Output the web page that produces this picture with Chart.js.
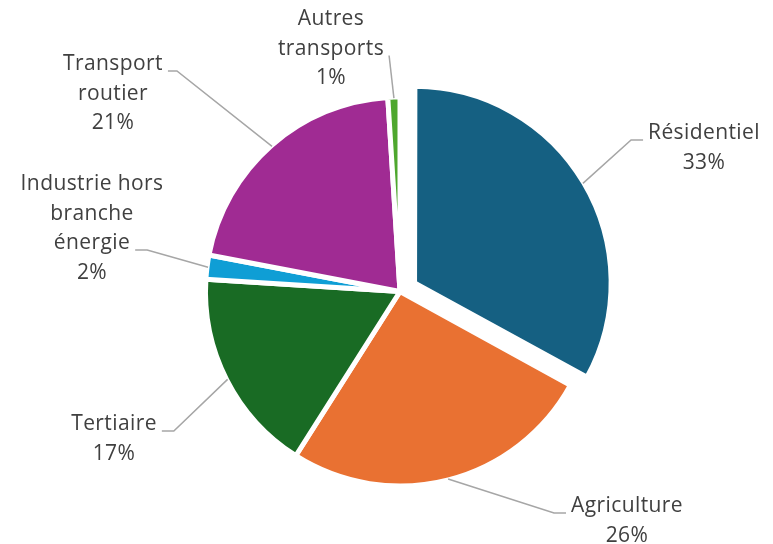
<!DOCTYPE html>
<html lang="fr">
<head>
<meta charset="UTF-8">
<title>Répartition par secteur</title>
<script src="https://cdn.jsdelivr.net/npm/chart.js"></script>
<style>
  html, body { margin: 0; padding: 0; background: #fff; }
  #wrap { width: 773px; height: 544px; }
</style>
</head>
<body>
<div id="wrap"><canvas id="pie"></canvas></div>
<script>
// Secteurs et parts (%), dans l'ordre horaire depuis midi
const sectors = ['Résidentiel', 'Agriculture', 'Tertiaire', 'Industrie hors branche énergie', 'Transport routier', 'Autres transports'];
const shares = [33, 26, 17, 2, 21, 1];
// libellés coupés comme dans les étiquettes
const labelLines = [
  ['Résidentiel'],
  ['Agriculture'],
  ['Tertiaire'],
  ['Industrie hors', 'branche', 'énergie'],
  ['Transport', 'routier'],
  ['Autres', 'transports']
];
const colors = ['#156082', '#E97132', '#196B24', '#0F9ED5', '#A02B93', '#4EA72E'];
// déplacement voulu de chaque part vers l'extérieur, en pixels
const explode = [19, 0, 0, 0, 0, 0];

// placement des étiquettes : décalage du bloc de texte par rapport au centre,
// ligne où s'accroche le trait de rappel, longueur du palier horizontal
const labelPlace = [
  { dx: 304, dy: -158, line: 0, tail: 12 },
  { dx: 227, dy: 215, line: 0, tail: 12 },
  { dx: -286, dy: 133, line: 0, tail: 12 },
  { dx: -308, dy: -107, line: 2, tail: 12 },
  { dx: -287, dy: -227, line: 0, tail: 9 },
  { dx: -69, dy: -272, line: 1, tail: 0 }
];

const FONT = '21px "Open Sans", sans-serif';
const LINE_H = 29.5;

// Chart.js décale un arc de offset/4 * (1 + fix) : on inverse pour obtenir le déplacement voulu
function arcFix(circ) {
  return 1 - Math.sin(Math.min(Math.PI, circ || 0));
}
function offsetFor(i) {
  const total = shares.reduce((a, b) => a + b, 0);
  const circ = shares[i] / total * Math.PI * 2;
  return explode[i] * 4 / (1 + arcFix(circ));
}

const leaderLabels = {
  id: 'leaderLabels',
  afterDatasetsDraw(chart) {
    const ctx = chart.ctx;
    const meta = chart.getDatasetMeta(0);
    const total = shares.reduce((a, b) => a + b, 0);
    ctx.save();
    ctx.font = FONT;
    ctx.letterSpacing = '0.4px';
    ctx.textAlign = 'center';
    ctx.textBaseline = 'middle';
    meta.data.forEach((arc, i) => {
      const p = arc.getProps(['x', 'y', 'startAngle', 'endAngle', 'outerRadius'], true);
      const mid = (p.startAngle + p.endAngle) / 2;
      const shift = explode[i];
      const cx = p.x + Math.cos(mid) * shift;
      const cy = p.y + Math.sin(mid) * shift;
      const sx = cx + Math.cos(mid) * (p.outerRadius - 1);
      const sy = cy + Math.sin(mid) * (p.outerRadius - 1);

      const place = labelPlace[i];
      const lines = labelLines[i].concat([Math.round(shares[i] / total * 100) + '%']);
      const tx = p.x + place.dx;
      const ty = p.y + place.dy;

      ctx.fillStyle = '#404040';
      lines.forEach((t, k) => ctx.fillText(t, tx, ty + k * LINE_H));

      // trait de rappel
      const w = ctx.measureText(lines[place.line]).width;
      const ay = ty + place.line * LINE_H + 6.5;
      const toRight = tx < sx;
      const ex = toRight ? tx + w / 2 + 5 : tx - w / 2 - 5;
      const kx = toRight ? ex + place.tail : ex - place.tail;
      ctx.strokeStyle = '#a6a6a6';
      ctx.lineWidth = 1.5;
      ctx.beginPath();
      ctx.moveTo(ex, ay);
      ctx.lineTo(kx, ay);
      ctx.lineTo(sx, sy);
      ctx.stroke();
    });
    ctx.restore();
  }
};

new Chart(document.getElementById('pie'), {
  type: 'pie',
  data: {
    labels: sectors,
    datasets: [{
      data: shares,
      backgroundColor: colors,
      borderColor: '#ffffff',
      borderWidth: 5,
      offset: explode.map((_, i) => offsetFor(i)),
      radius: 194.5
    }]
  },
  options: {
    responsive: true,
    maintainAspectRatio: false,
    animation: false,
    layout: { padding: { left: 27, right: 0, top: 39, bottom: 0 } },
    plugins: {
      legend: { display: false },
      tooltip: { enabled: false }
    }
  },
  plugins: [leaderLabels]
});
</script>
</body>
</html>
